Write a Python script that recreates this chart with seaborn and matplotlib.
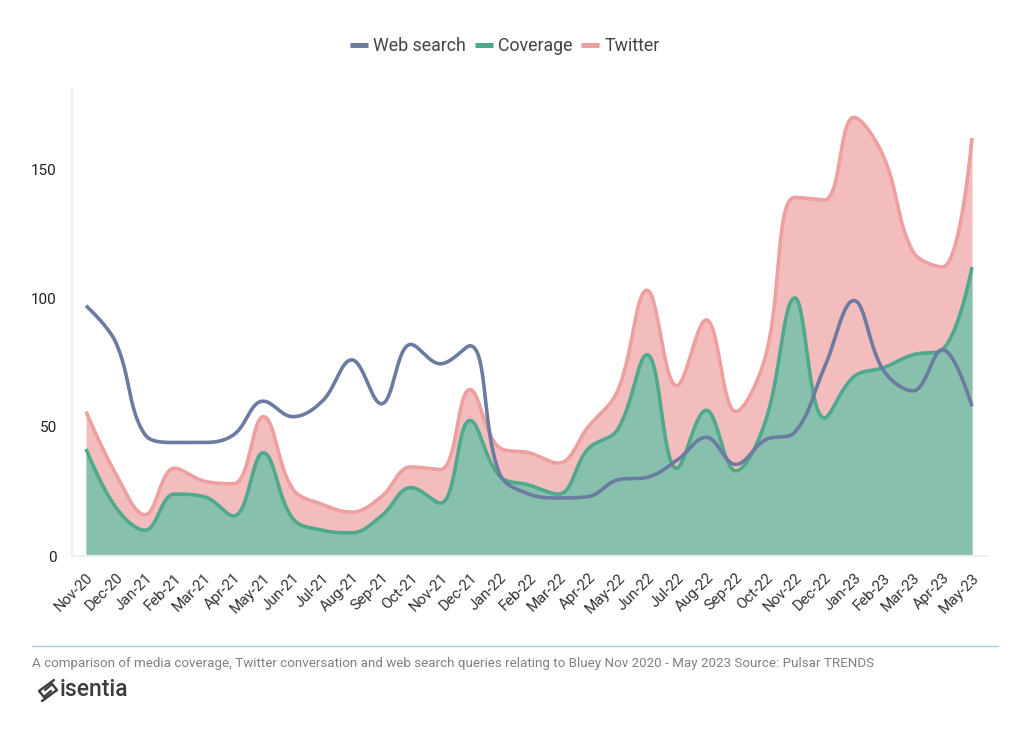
import numpy as np
import matplotlib
matplotlib.use("Agg")
import matplotlib.pyplot as plt
from matplotlib.lines import Line2D
import seaborn as sns

# Values
months = ["Nov-20", "Dec-20", "Jan-21", "Feb-21", "Mar-21", "Apr-21", "May-21", "Jun-21",
          "Jul-21", "Aug-21", "Sep-21", "Oct-21", "Nov-21", "Dec-21", "Jan-22", "Feb-22",
          "Mar-22", "Apr-22", "May-22", "Jun-22", "Jul-22", "Aug-22", "Sep-22", "Oct-22",
          "Nov-22", "Dec-22", "Jan-23", "Feb-23", "Mar-23", "Apr-23", "May-23"]
web_search = [97, 83, 47, 44, 44, 47, 60, 54, 60, 76, 59, 82, 74.5, 81.5, 32, 24,
              22.5, 23, 29.5, 30.5, 37, 46, 35.5, 45, 48, 73, 99, 72, 64, 80, 58]
coverage = [41.5, 19, 10, 24, 23, 15.5, 40, 14.5, 10, 9, 15.5, 26.5, 20.5, 52.5, 31, 27.5,
            24, 41.5, 49, 78, 34, 56.5, 33, 52, 100, 53.5, 69.5, 73, 78, 80, 112]
twitter = [56, 32, 16, 34, 29, 28, 54, 26, 20, 17, 23, 34.5, 33.5, 64.5, 42, 40,
           36, 50, 64, 103, 66, 91.5, 56, 77, 139, 138, 170, 155, 118, 112, 162]
y_ticks = [0, 50, 100, 150]

WEB_COL = "#6b7ba1"
COV_COL = "#4fa98b"
TW_COL = "#ee9f9f"
COV_FILL = "#88c0ae"
TW_FILL = "#f3bdbd"
AXIS_COL = "#eeeeee"
LOGO_COL = "#3c3c3c"

sns.set_theme(style="white")
plt.rcParams["font.family"] = ["Roboto", "DejaVu Sans"]


def smooth_curve(values, smooth=0.38, steps=30, sx=29.53, sy=2.58):
    # bezier through the monthly values, control points kept inside each segment
    xs = np.arange(len(values)) * sx
    ys = np.array(values, dtype=float) * sy
    n = len(xs)
    out_cp = [None] * n
    in_cp = [None] * n
    for i in range(n):
        x, y = xs[i], ys[i]
        if i == 0 or i == n - 1:
            out_cp[i] = (x, y)
            in_cp[i] = (x, y)
            continue
        px, py, nx, ny = xs[i - 1], ys[i - 1], xs[i + 1], ys[i + 1]
        len_prev = np.hypot(x - px, y - py)
        len_next = np.hypot(nx - x, ny - y)
        ratio = len_next / (len_next + len_prev)
        ox = np.clip(x + (nx - px) * smooth * ratio, min(x, nx), max(x, nx))
        oy = np.clip(y + (ny - py) * smooth * ratio, min(y, ny), max(y, ny))
        ix = np.clip(x - (ox - x) * len_prev / len_next, min(x, px), max(x, px))
        iy = np.clip(y - (oy - y) * len_prev / len_next, min(y, py), max(y, py))
        ox = x + (x - ix) * len_next / len_prev
        oy = y + (y - iy) * len_next / len_prev
        out_cp[i] = (ox, oy)
        in_cp[i] = (ix, iy)
    t = np.linspace(0, 1, steps)[:, None]
    parts = []
    for i in range(n - 1):
        p0 = np.array([xs[i], ys[i]])
        p3 = np.array([xs[i + 1], ys[i + 1]])
        p1 = np.array(out_cp[i])
        p2 = np.array(in_cp[i + 1])
        parts.append((1 - t) ** 3 * p0 + 3 * (1 - t) ** 2 * t * p1 + 3 * (1 - t) * t ** 2 * p2 + t ** 3 * p3)
    curve = np.vstack(parts)
    return curve[:, 0] / sx, curve[:, 1] / sy


fig = plt.figure(figsize=(10.24, 7.46), dpi=100)
ax = fig.add_axes([71.5 / 1024, 190 / 746, 916 / 1024, 466 / 746])

tw_x, tw_y = smooth_curve(twitter)
cov_x, cov_y = smooth_curve(coverage)
web_x, web_y = smooth_curve(web_search)

ax.fill_between(tw_x, 0, tw_y, color=TW_FILL, lw=0)
ax.fill_between(cov_x, 0, cov_y, color=COV_FILL, lw=0)
sns.lineplot(x=tw_x, y=tw_y, color=TW_COL, lw=2.6, sort=False, errorbar=None, ax=ax, solid_capstyle="butt")
sns.lineplot(x=cov_x, y=cov_y, color=COV_COL, lw=2.6, sort=False, errorbar=None, ax=ax, solid_capstyle="butt")
sns.lineplot(x=web_x, y=web_y, color=WEB_COL, lw=2.6, sort=False, errorbar=None, ax=ax, solid_capstyle="butt")

ax.set_xlim(-14.5 / 29.53, 30 + 15.5 / 29.53)
ax.set_ylim(0, 466 / 2.58)
ax.set_xticks(range(len(months)))
ax.set_xticklabels(months, rotation=45, ha="right", rotation_mode="anchor", fontsize=10.9, color="#333333")
ax.set_yticks(y_ticks)
ax.set_yticklabels(y_ticks, fontsize=11, color="#222222")
ax.tick_params(axis="both", length=7.5, width=1.4, color=AXIS_COL, pad=3)
ax.set_xlabel("")
ax.set_ylabel("")
ax.spines["top"].set_visible(False)
ax.spines["right"].set_visible(False)
for side in ["left", "bottom"]:
    ax.spines[side].set_color(AXIS_COL)
    ax.spines[side].set_linewidth(1.5)

handles = [Line2D([0], [0], color=WEB_COL, lw=3.6, solid_capstyle="butt"),
           Line2D([0], [0], color=COV_COL, lw=3.6, solid_capstyle="butt"),
           Line2D([0], [0], color=TW_COL, lw=3.6, solid_capstyle="butt")]
fig.legend(handles, ["Web search", "Coverage", "Twitter"], loc="center", bbox_to_anchor=(505 / 1024, 1 - 46 / 746),
           ncol=3, frameon=False, fontsize=12.8, handlelength=1.0, handletextpad=0.3, columnspacing=0.5,
           labelcolor="#444444")

# footer rule, caption, logo
fig.add_artist(Line2D([32 / 1024, 998 / 1024], [1 - 645.5 / 746] * 2, color="#a9cde8", lw=1))
fig.text(32 / 1024, 1 - 663 / 746,
         "A comparison of media coverage, Twitter conversation and web search queries relating to Bluey "
         "Nov 2020 - May 2023 Source: Pulsar TRENDS",
         fontsize=9.66, color="#808080", va="center", ha="left")
fig.text(60 / 1024, 1 - 689 / 746, "isentia", fontsize=16.5, color=LOGO_COL, fontweight="medium", va="center", ha="left")
logo_strokes = [[(54, 680), (39, 691), (44, 697), (51, 691)],
                [(42, 701), (57, 690), (52, 684), (45, 690)]]
for stroke in logo_strokes:
    px = [p[0] / 1024 for p in stroke]
    py = [1 - p[1] / 746 for p in stroke]
    fig.add_artist(Line2D(px, py, color=LOGO_COL, lw=1.7, solid_capstyle="round", solid_joinstyle="round"))

fig.savefig("out.png", dpi=100)
